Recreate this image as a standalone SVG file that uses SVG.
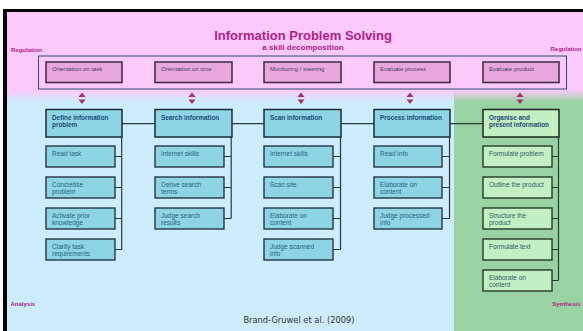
<svg xmlns="http://www.w3.org/2000/svg" width="583" height="331" viewBox="0 0 583 331">
<defs>
<linearGradient id="pb" x1="0" y1="0" x2="0" y2="1"><stop offset="0" stop-color="#fdc8fa"/><stop offset="1" stop-color="#cdecfd"/></linearGradient>
<linearGradient id="pg" x1="0" y1="0" x2="0" y2="1"><stop offset="0" stop-color="#fdc8fa"/><stop offset="1" stop-color="#99d3a4"/></linearGradient>
<style>
.reg{fill:#e7a6de;stroke:#3a2a3a;stroke-width:1.5}
.rt{font-family:"Liberation Sans",Arial,sans-serif;font-size:6px;fill:#45405e}
.top{fill:#8dd4e4;stroke:#1c2a33;stroke-width:1.5}
.ch{fill:#8dd4e4;stroke:#1c2a33;stroke-width:1.3}
.gtop{fill:#c3efc3;stroke:#1c2a23;stroke-width:1.5}
.gch{fill:#c3efc3;stroke:#1c2a23;stroke-width:1.3}
.bt{font-family:"Liberation Sans",Arial,sans-serif;font-size:6.4px;font-weight:bold;fill:#1d4a78}
.ct{font-family:"Liberation Sans",Arial,sans-serif;font-size:6.5px;fill:#2c5f86}
.gt{font-family:"Liberation Sans",Arial,sans-serif;font-size:6.5px;fill:#2d5d6e}
.lab{font-family:"Liberation Sans",Arial,sans-serif;font-size:6px;font-weight:bold;fill:#b0208a}
.con{fill:none;stroke:#2a3a3a;stroke-width:1.2}
.arr{fill:#a3306b}
</style>
</defs>
<rect x="0" y="0" width="583" height="331" fill="#ffffff"/>
<rect x="3" y="9" width="580" height="322" fill="#000000"/>
<rect x="7" y="12" width="576" height="80" fill="#fdc8fa"/>
<rect x="7" y="90" width="447" height="12" fill="url(#pb)"/>
<rect x="454" y="90" width="129" height="12" fill="url(#pg)"/>
<rect x="7" y="102" width="447" height="229" fill="#cdecfd"/>
<rect x="454" y="102" width="129" height="229" fill="#99d3a4"/>

<text x="303" y="39.5" text-anchor="middle" font-family="Liberation Sans, Arial, sans-serif" font-size="13" font-weight="bold" fill="#b0208a">Information Problem Solving</text>
<text x="303" y="50" text-anchor="middle" font-family="Liberation Sans, Arial, sans-serif" font-size="8" font-weight="bold" fill="#b0208a">a skill decomposition</text>
<text class="lab" x="11" y="52">Regulation</text>
<text class="lab" x="581.5" y="51" text-anchor="end">Regulation</text>
<text class="lab" x="10.5" y="305.5">Analysis</text>
<text class="lab" x="580.5" y="305.5" text-anchor="end">Synthesis</text>
<text x="299" y="323" text-anchor="middle" font-family="DejaVu Sans, Verdana, sans-serif" font-size="8.3" fill="#333333">Brand-Gruwel et al. (2009)</text>

<g id="regulation">
<rect x="38.5" y="56" width="528" height="33" fill="none" stroke="#24507a" stroke-width="1"/>
<g id="reg1"><rect class="reg" x="46" y="62" width="76" height="20.5"/><text class="rt" x="52" y="70.7">Orientation  on task</text></g>
<g id="reg2"><rect class="reg" x="155" y="62" width="77" height="20.5"/><text class="rt" x="161" y="70.7">Orientation  on time</text></g>
<g id="reg3"><rect class="reg" x="264" y="62" width="77" height="20.5"/><text class="rt" x="270" y="70.7">Monitoring  / steering</text></g>
<g id="reg4"><rect class="reg" x="374" y="62" width="76" height="20.5"/><text class="rt" x="380" y="70.7">Evaluate  process</text></g>
<g id="reg5"><rect class="reg" x="483" y="62" width="76" height="20.5"/><text class="rt" x="489" y="70.7">Evaluate  product</text></g>
</g>

<g id="arrows">
<g><polygon class="arr" points="78.5,97 82,92.5 85.5,97"/><polygon class="arr" points="78.5,99.5 82,104 85.5,99.5"/></g>
<g><polygon class="arr" points="188.5,97 192,92.5 195.5,97"/><polygon class="arr" points="188.5,99.5 192,104 195.5,99.5"/></g>
<g><polygon class="arr" points="297.5,97 301,92.5 304.5,97"/><polygon class="arr" points="297.5,99.5 301,104 304.5,99.5"/></g>
<g><polygon class="arr" points="406.5,97 410,92.5 413.5,97"/><polygon class="arr" points="406.5,99.5 410,104 413.5,99.5"/></g>
<g><polygon class="arr" points="516.5,97 520,92.5 523.5,97"/><polygon class="arr" points="516.5,99.5 520,104 523.5,99.5"/></g>
</g>

<g id="connectors">
<path class="con" d="M122,123.7 H155 M232,123.7 H264 M341,123.7 H374 M450,123.7 H483"/>
<path class="con" d="M121.7,137 V249.5 M115,156.5 H121.7 M115,187.5 H121.7 M115,218.5 H121.7 M115,249.5 H121.7"/>
<path class="con" d="M231.2,137 V218.5 M224,156.5 H231.2 M224,187.5 H231.2 M224,218.5 H231.2"/>
<path class="con" d="M340.5,137 V249.5 M333,156.5 H340.5 M333,187.5 H340.5 M333,218.5 H340.5 M333,249.5 H340.5"/>
<path class="con" d="M449.5,137 V218.5 M442,156.5 H449.5 M442,187.5 H449.5 M442,218.5 H449.5"/>
<path class="con" stroke="#2a3f30" d="M558.5,137 V280.5 M552,156.5 H558.5 M552,187.5 H558.5 M552,218.5 H558.5 M552,249.5 H558.5 M552,280.5 H558.5"/>
</g>

<g id="col1">
<g id="define"><rect class="top" x="46" y="109.5" width="76" height="27.5"/><text class="bt" x="52" y="119.5">Define  information</text><text class="bt" x="52" y="126.5">problem</text></g>
<g id="readtask"><rect class="ch" x="46" y="146" width="69" height="21"/><text class="ct" x="52" y="155.5">Read task</text></g>
<g id="concretise"><rect class="ch" x="46" y="177" width="69" height="21"/><text class="ct" x="52" y="186.5">Concretise</text><text class="ct" x="52" y="194.3">problem</text></g>
<g id="activate"><rect class="ch" x="46" y="208" width="69" height="21"/><text class="ct" x="52" y="217.5">Activate prior</text><text class="ct" x="52" y="225.3">knowledge</text></g>
<g id="clarify"><rect class="ch" x="46" y="239" width="69" height="21"/><text class="ct" x="52" y="248.5">Clarify task</text><text class="ct" x="52" y="256.3">requirements</text></g>
</g>

<g id="col2">
<g id="search"><rect class="top" x="155" y="109.5" width="77" height="27.5"/><text class="bt" x="161" y="119.5">Search information</text></g>
<g id="internet1"><rect class="ch" x="155" y="146" width="69" height="21"/><text class="ct" x="161" y="155.5">Internet skills</text></g>
<g id="derive"><rect class="ch" x="155" y="177" width="69" height="21"/><text class="ct" x="161" y="186.5">Derive search</text><text class="ct" x="161" y="194.3">terms</text></g>
<g id="judgesearch"><rect class="ch" x="155" y="208" width="69" height="21"/><text class="ct" x="161" y="217.5">Judge search</text><text class="ct" x="161" y="225.3">results</text></g>
</g>

<g id="col3">
<g id="scan"><rect class="top" x="264" y="109.5" width="77" height="27.5"/><text class="bt" x="270" y="119.5">Scan information</text></g>
<g id="internet2"><rect class="ch" x="264" y="146" width="69" height="21"/><text class="ct" x="270" y="155.5">Internet skills</text></g>
<g id="scansite"><rect class="ch" x="264" y="177" width="69" height="21"/><text class="ct" x="270" y="186.5">Scan site</text></g>
<g id="elab1"><rect class="ch" x="264" y="208" width="69" height="21"/><text class="ct" x="270" y="217.5">Elaborate on</text><text class="ct" x="270" y="225.3">content</text></g>
<g id="judgescan"><rect class="ch" x="264" y="239" width="69" height="21"/><text class="ct" x="270" y="248.5">Judge scanned</text><text class="ct" x="270" y="256.3">info</text></g>
</g>

<g id="col4">
<g id="process"><rect class="top" x="374" y="109.5" width="76" height="27.5"/><text class="bt" x="380" y="119.5">Process information</text></g>
<g id="readinfo"><rect class="ch" x="374" y="146" width="68" height="21"/><text class="ct" x="380" y="155.5">Read info</text></g>
<g id="elab2"><rect class="ch" x="374" y="177" width="68" height="21"/><text class="ct" x="380" y="186.5">Elaborate on</text><text class="ct" x="380" y="194.3">content</text></g>
<g id="judgeproc"><rect class="ch" x="374" y="208" width="68" height="21"/><text class="ct" x="380" y="217.5">Judge processed</text><text class="ct" x="380" y="225.3">info</text></g>
</g>

<g id="col5">
<g id="organise"><rect class="gtop" x="483" y="109.5" width="76" height="27.5"/><text class="bt" x="489" y="119.5">Organise and</text><text class="bt" x="489" y="126.5">present information</text></g>
<g id="formprob"><rect class="gch" x="483" y="146" width="69" height="21"/><text class="gt" x="489" y="155.5">Formulate problem</text></g>
<g id="outline"><rect class="gch" x="483" y="177" width="69" height="21"/><text class="gt" x="489" y="186.5">Outline the product</text></g>
<g id="structure"><rect class="gch" x="483" y="208" width="69" height="21"/><text class="gt" x="489" y="217.5">Structure the</text><text class="gt" x="489" y="225.3">product</text></g>
<g id="formtext"><rect class="gch" x="483" y="239" width="69" height="21"/><text class="gt" x="489" y="248.5">Formulate text</text></g>
<g id="elab3"><rect class="gch" x="483" y="270" width="69" height="21"/><text class="gt" x="489" y="279.5">Elaborate on</text><text class="gt" x="489" y="287.3">content</text></g>
</g>
</svg>
